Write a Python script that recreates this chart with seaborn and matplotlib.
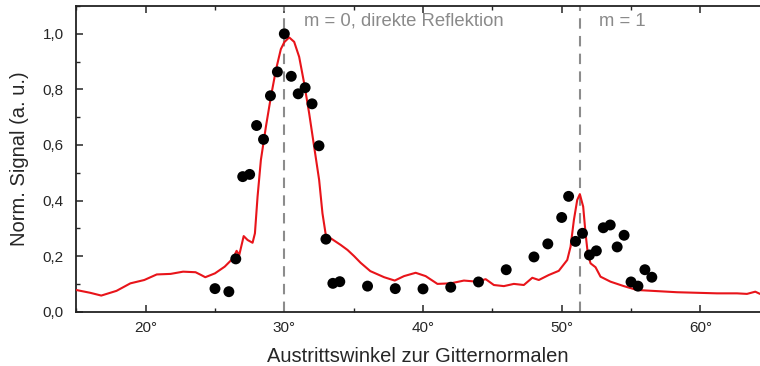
import numpy as np
import pandas as pd
import matplotlib
matplotlib.use("Agg")
import matplotlib.pyplot as plt
from matplotlib.ticker import MultipleLocator, FuncFormatter
import seaborn as sns

# measured data points (angle in degrees, normalized signal)
meas_angle = [25, 26, 26.5, 27, 27.5, 28, 28.5, 29, 29.5, 30, 30.5, 31, 31.5, 32,
              32.5, 33, 33.5, 34, 36, 38, 40, 42, 44, 46, 48, 49, 50, 50.5, 51,
              51.5, 52, 52.5, 53, 53.5, 54, 54.5, 55, 55.5, 56, 56.5]
meas_signal = [0.083, 0.072, 0.19, 0.486, 0.494, 0.670, 0.620, 0.777, 0.863, 1.0,
               0.847, 0.784, 0.806, 0.748, 0.597, 0.261, 0.102, 0.108, 0.092, 0.083,
               0.082, 0.088, 0.107, 0.151, 0.197, 0.244, 0.339, 0.415, 0.253, 0.282,
               0.204, 0.219, 0.302, 0.312, 0.233, 0.275, 0.107, 0.092, 0.151, 0.124]

# simulated curve
sim_angle = [15.0, 16.0, 16.8, 17.9, 18.9, 19.9, 20.8, 21.8, 22.7, 23.6, 24.0, 24.3,
             25.0, 25.7, 26.3, 26.56, 26.75, 27.07, 27.35, 27.71, 27.88, 28.07, 28.31,
             28.67, 29.03, 29.39, 29.75, 30.0, 30.35, 30.71, 31.07, 31.43, 31.79, 32.15,
             32.51, 32.75, 32.99, 33.35, 33.71, 34.07, 34.56, 35.03, 35.5, 36.2, 37.2,
             37.96, 38.63, 39.47, 40.19, 41.04, 42.0, 42.95, 43.9, 44.52, 45.11, 45.83,
             46.55, 47.27, 47.88, 48.35, 49.07, 49.79, 50.4, 50.64, 50.88, 51.12, 51.31,
             51.55, 51.72, 51.88, 52.08, 52.44, 52.8, 53.52, 54.48, 55.44, 56.88, 58.32,
             59.76, 61.2, 62.64, 63.36, 63.96, 64.3]
sim_signal = [0.078, 0.068, 0.058, 0.075, 0.102, 0.114, 0.134, 0.136, 0.144, 0.142,
              0.132, 0.124, 0.138, 0.162, 0.192, 0.219, 0.204, 0.272, 0.258, 0.248,
              0.282, 0.414, 0.546, 0.665, 0.773, 0.869, 0.945, 0.970, 0.987, 0.971,
              0.917, 0.822, 0.714, 0.594, 0.474, 0.354, 0.276, 0.264, 0.252, 0.240,
              0.222, 0.200, 0.176, 0.146, 0.124, 0.112, 0.128, 0.140, 0.128, 0.100,
              0.102, 0.112, 0.108, 0.117, 0.096, 0.092, 0.100, 0.096, 0.122, 0.114,
              0.132, 0.147, 0.186, 0.234, 0.330, 0.402, 0.423, 0.378, 0.282, 0.210,
              0.174, 0.160, 0.126, 0.108, 0.092, 0.078, 0.074, 0.070, 0.068, 0.066,
              0.066, 0.064, 0.072, 0.064]

order_angles = [30.0, 51.3]
order_labels = ["m = 0, direkte Reflektion", "m = 1"]

sns.set_style("ticks")
plt.rcParams['font.family'] = ['Liberation Sans', 'DejaVu Sans']
plt.rcParams['xtick.direction'] = 'in'
plt.rcParams['ytick.direction'] = 'in'

fig = plt.figure(figsize=(7.6, 3.66), dpi=100)
ax = fig.add_axes([0.1004, 0.1484, 0.8996, 0.8352])

sim = pd.DataFrame({'angle': sim_angle, 'signal': sim_signal})
meas = pd.DataFrame({'angle': meas_angle, 'signal': meas_signal})

sns.lineplot(data=sim, x='angle', y='signal', color='#e8141a', linewidth=1.5,
             sort=False, ax=ax, zorder=3)
sns.scatterplot(data=meas, x='angle', y='signal', color='black', s=62,
                edgecolor='none', ax=ax, zorder=4)

for a, lab in zip(order_angles, order_labels):
    ax.axvline(a, color='#8c8c8c', linestyle=(0, (5, 3.5)), linewidth=1.5, zorder=2)
    ax.text(a + 1.4, 1.046, lab, color='#8a8a8a', fontsize=13.3, va='center', ha='left')

ax.set_xlim(15, 64.3)
ax.set_ylim(0, 1.1)
ax.xaxis.set_major_locator(MultipleLocator(10))
ax.xaxis.set_minor_locator(MultipleLocator(5))
ax.yaxis.set_major_locator(MultipleLocator(0.2))
ax.yaxis.set_minor_locator(MultipleLocator(0.1))
ax.xaxis.set_major_formatter(FuncFormatter(lambda v, p: f"{v:.0f}\u00b0"))
ax.yaxis.set_major_formatter(FuncFormatter(lambda v, p: f"{v:.1f}".replace('.', ',')))
ax.tick_params(which='major', length=5, width=1.1, labelsize=11, top=True, right=False)
ax.tick_params(which='minor', length=3, width=1.0, top=True, right=False)
ax.tick_params(axis='x', which='major', pad=7)
ax.tick_params(axis='y', which='major', pad=9)

for s in ['left', 'bottom', 'top']:
    ax.spines[s].set_linewidth(1.3)
    ax.spines[s].set_color('#222222')
ax.spines['right'].set_visible(False)

ax.set_xlabel('Austrittswinkel zur Gitternormalen', fontsize=14.5, labelpad=8)
ax.set_ylabel('Norm. Signal (a. u.)', fontsize=14.5, labelpad=10)

fig.savefig('out.png', dpi=100)
